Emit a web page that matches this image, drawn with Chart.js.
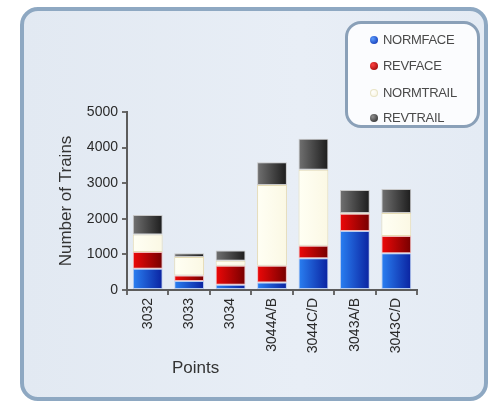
<!DOCTYPE html>
<html>
<head>
<meta charset="utf-8">
<script src="https://cdn.jsdelivr.net/npm/chart.js@4.4.1/dist/chart.umd.min.js"></script>
<style>
	html, body { margin: 0; padding: 0; background: #fff; }
	#wrap { position: relative; width: 490px; height: 404px; overflow: hidden; }
	#panel {
		position: absolute; left: 20px; top: 7px; width: 460px; height: 386px;
		border: 4px solid #8ea8c2; border-radius: 18px;
		background: linear-gradient(90deg, #e2e9f2 0%, #e8eef6 60%, #e4ebf4 100%);
	}
	#chartBox { position: absolute; left: 0; top: 0; width: 490px; height: 404px; }
	#legend {
		position: absolute; left: 345px; top: 21px; width: 129px; height: 101px;
		border: 3px solid #8aa0b8; border-radius: 16px; background: #fbfcfe;
		font-family: "Liberation Sans", Arial, sans-serif; font-size: 13px; color: #4a4a4a;
	}
	#legend .item { position: absolute; left: 22px; height: 16px; line-height: 16px; }
	#legend .dot {
		position: absolute; left: 0; top: 4px; width: 8px; height: 8px; border-radius: 50%;
	}
	#legend .txt { position: absolute; left: 13px; top: 0; white-space: nowrap; letter-spacing: -0.3px; }
	#xTitle {
		position: absolute; left: 172px; top: 358px;
		font-family: "Liberation Sans", Arial, sans-serif; font-size: 17px; color: #333;
	}
</style>
</head>
<body>
<div id="wrap">
	<div id="panel"></div>
	<div id="chartBox"><canvas id="trains"></canvas></div>
	<div id="legend"></div>
	<div id="xTitle">Points</div>
</div>
<script>
const categories = ["3032", "3033", "3034", "3044A/B", "3044C/D", "3043A/B", "3043C/D"];
const normFace = [600, 250, 150, 210, 890, 1660, 1030];
const revFace = [470, 160, 530, 470, 350, 480, 490];
const normTrail = [490, 520, 140, 2270, 2140, 20, 640];
const revTrail = [550, 100, 290, 640, 870, 650, 680];
const yTicks = [0, 1000, 2000, 3000, 4000, 5000];

const seriesNames = ["NORMFACE", "REVFACE", "NORMTRAIL", "REVTRAIL"];
const seriesData = [normFace, revFace, normTrail, revTrail];
const colours = [
	["#2a80f2", "#0a22a0"],
	["#ee0808", "#760000"],
	["#fffff4", "#fbf8e4"],
	["#727272", "#1c1c1c"],
];
const borders = ["#b8cdf0", "#f2b8b8", "#e6dcb4", "#c8c8c8"];
const barPct = 0.72;

function gradient(c1, c2) {
	return function (ctx) {
		const chart = ctx.chart;
		const x = chart.scales.x;
		if (!x || ctx.dataIndex === undefined) return c1;
		const cx = x.getPixelForValue(ctx.dataIndex);
		const half = (x.width / categories.length) * barPct / 2;
		if (!isFinite(cx) || !isFinite(half) || half <= 0) return c1;
		const g = chart.ctx.createLinearGradient(cx - half, 0, cx + half, 0);
		g.addColorStop(0, c1);
		g.addColorStop(1, c2);
		return g;
	};
}

const datasets = seriesNames.map((name, i) => ({
	label: name,
	data: seriesData[i],
	backgroundColor: gradient(colours[i][0], colours[i][1]),
	borderColor: borders[i],
	borderWidth: 1,
	borderSkipped: false,
	barPercentage: barPct,
	categoryPercentage: 1,
}));

// legend as html
const legendEl = document.getElementById("legend");
const dotFill = [
	"radial-gradient(circle at 35% 35%, #5a9cff, #0628a8)",
	"radial-gradient(circle at 35% 35%, #ff4040, #8a0000)",
	"radial-gradient(circle at 35% 35%, #ffffff, #f6f2d8)",
	"radial-gradient(circle at 35% 35%, #909090, #202020)",
];
const legendTops = [16, 42, 69, 94];
seriesNames.forEach((name, i) => {
	const it = document.createElement("div");
	it.className = "item";
	it.style.top = (legendTops[i] - 8) + "px";
	const d = document.createElement("div");
	d.className = "dot";
	d.style.background = dotFill[i];
	if (i === 2) d.style.boxShadow = "inset 0 0 0 1px #e8e4c8";
	const t = document.createElement("div");
	t.className = "txt";
	t.textContent = name;
	it.appendChild(d);
	it.appendChild(t);
	legendEl.appendChild(it);
});

Chart.defaults.font.family = '"Liberation Sans", Arial, sans-serif';

const ctx = document.getElementById("trains").getContext("2d");
new Chart(ctx, {
	type: "bar",
	data: { labels: categories, datasets: datasets },
	options: {
		responsive: true,
		maintainAspectRatio: false,
		animation: false,
		layout: { padding: { left: 56, right: 73, top: 112, bottom: 20 } },
		plugins: {
			legend: { display: false },
			tooltip: { enabled: false },
		},
		scales: {
			x: {
				stacked: true,
				offset: true,
				afterFit: function (scale) { scale.height = 94; },
				border: { display: true, color: "#5c5c5c", width: 2 },
				grid: { display: true, offset: true, drawOnChartArea: false, drawTicks: true, tickLength: 5, color: "#6a6a6a", lineWidth: 2 },
				ticks: { minRotation: 90, maxRotation: 90, color: "#2a2a2a", font: { size: 14 }, padding: 3, autoSkip: false },
			},
			y: {
				stacked: true,
				min: yTicks[0],
				max: yTicks[yTicks.length - 1],
				afterFit: function (scale) { scale.width = 71; },
				afterBuildTicks: function (scale) { scale.ticks = yTicks.map((v) => ({ value: v })); },
				border: { display: true, color: "#5c5c5c", width: 2 },
				grid: { display: true, drawOnChartArea: false, drawTicks: true, tickLength: 5, color: "#6a6a6a", lineWidth: 2 },
				ticks: {
					color: "#2a2a2a", font: { size: 14 }, padding: 4,
					callback: function (value) { return String(value); },
				},
				title: { display: true, text: "Number of Trains", color: "#333", font: { size: 17 }, padding: 0 },
			},
		},
	},
});
</script>
</body>
</html>
